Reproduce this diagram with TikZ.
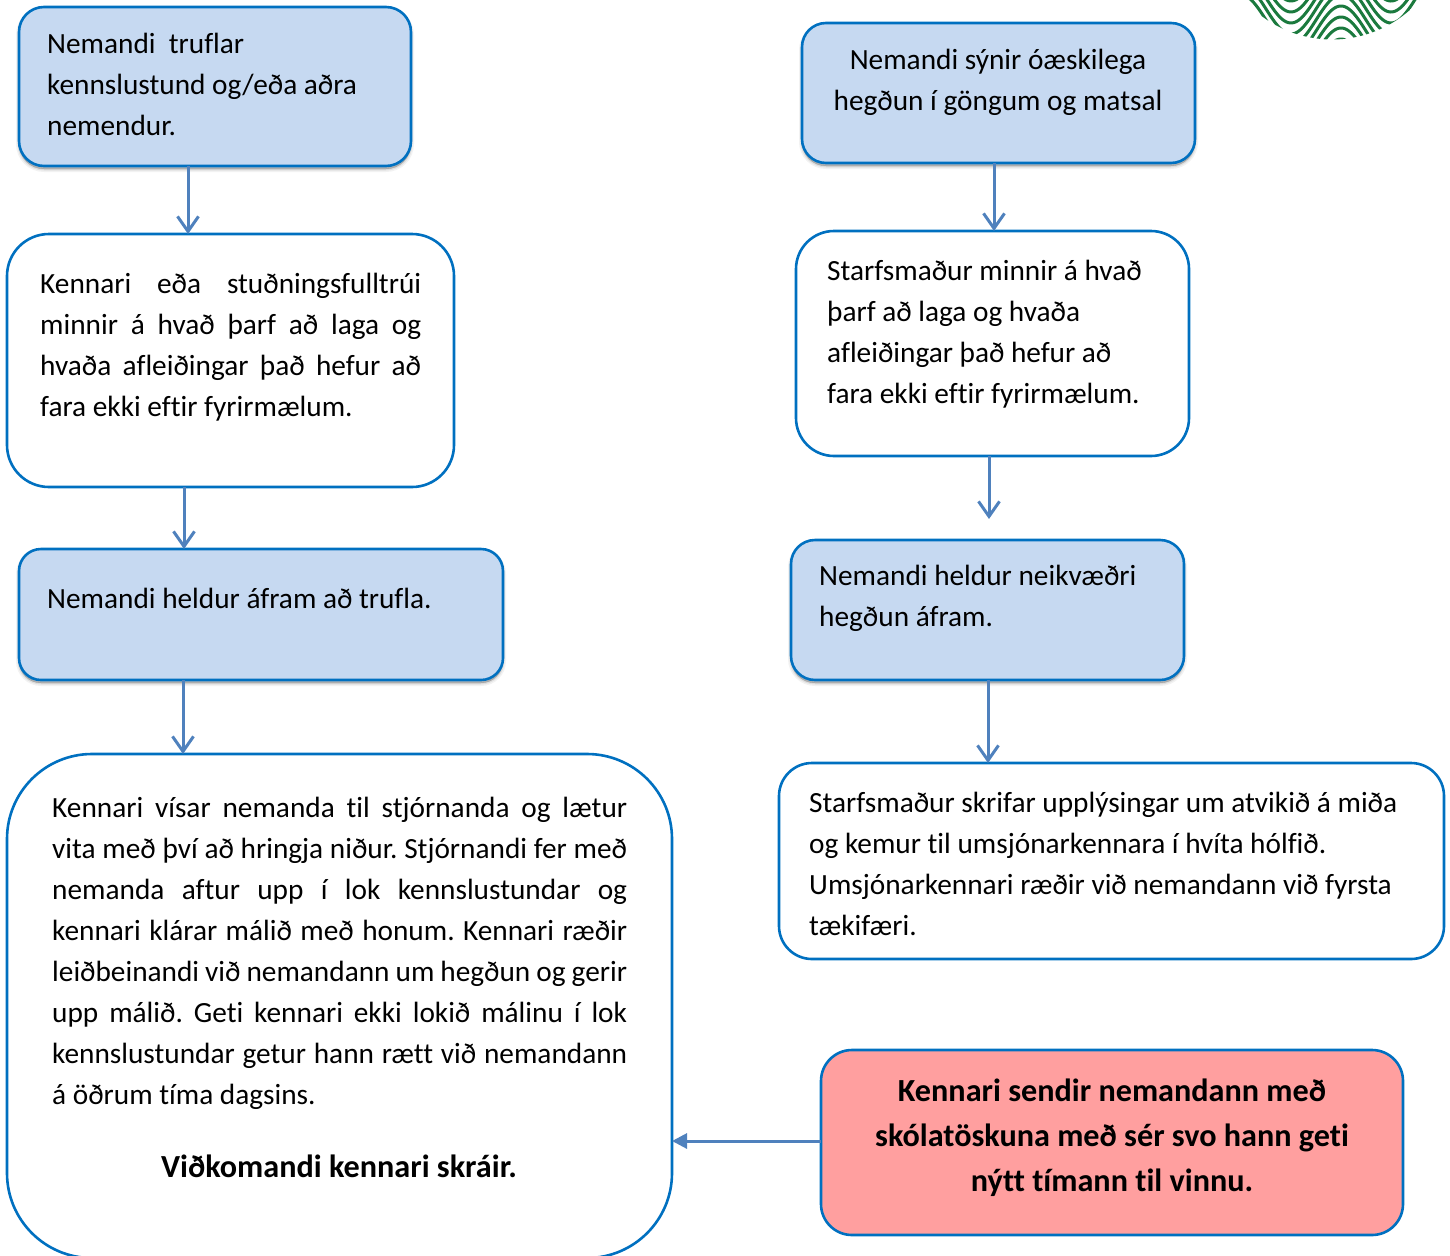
\documentclass[tikz,border=0pt]{standalone}
\usepackage{fontspec}
\setmainfont[Ligatures=NoCommon]{Carlito}
\usetikzlibrary{arrows.meta,shadows}
\definecolor{boxline}{HTML}{0070C0}
\definecolor{bluefill}{HTML}{C6D9F1}
\definecolor{redfill}{HTML}{FF9F9F}
\definecolor{arrowblue}{HTML}{4F81BD}
\definecolor{logogreen}{HTML}{1B7A3E}
\newcommand{\jl}[2]{\hbox to #1pt{#2}}
\tikzset{
  x=1pt,y=-1pt,
  box/.style={draw=boxline,line width=2.6pt,inner sep=0pt,outer sep=0pt,anchor=north west},
  softshadow/.style={
    general shadow={shadow xshift=0pt,shadow yshift=-3pt,draw=black,fill=black,opacity=.05,line width=6pt},
    general shadow={shadow xshift=0pt,shadow yshift=-3pt,draw=black,fill=black,opacity=.08,line width=3pt},
    general shadow={shadow xshift=0pt,shadow yshift=-3pt,draw=black,fill=black,opacity=.10,line width=.5pt}},
  bluebox/.style={box,fill=bluefill,softshadow},
  whitebox/.style={box,fill=white},
  redbox/.style={box,fill=redfill},
  txt/.style={inner sep=0pt,anchor=north west,align=left,font=\fontsize{29.3}{41.1}\selectfont\frenchspacing,text=black},
  ctxt/.style={inner sep=0pt,anchor=north,align=center,font=\fontsize{29.3}{41.1}\selectfont\frenchspacing,text=black},
  btxt/.style={inner sep=0pt,anchor=north,align=center,font=\fontsize{32.2}{45}\selectfont\bfseries,text=black},
  conn/.style={draw=arrowblue,line width=3pt,-{Straight Barb[length=15pt,width=21pt,line width=3pt]}},
  connfill/.style={draw=arrowblue,line width=3pt,-{Triangle[length=15pt,width=15pt]}},
  wave/.style={draw=logogreen,line width=3pt},
}
\newcommand{\rbox}[7]{% style,name,x1,y1,x2,y2,r
  \pgfmathsetmacro{\bw}{#5-#3}\pgfmathsetmacro{\bh}{#6-#4}
  \node[#1,rounded corners=#7pt,minimum width=\bw pt,minimum height=\bh pt] (#2) at (#3,#4) {};
}
\begin{document}
\begin{tikzpicture}
\useasboundingbox (0,0) rectangle (1450,1255);
\clip (0,0) rectangle (1450,1255);
% logo
\begin{scope}
\clip (1332,-78) circle (117.5pt);
\foreach \o in {-71,-60,...,39}{
  \draw[wave,domain=1215:1450,samples=120,smooth,variable=\t] plot ({\t},{\o+25-25*cos(3.6*(\t-1341))});
}
\end{scope}
% boxes
\rbox{bluebox}{A}{19}{7}{411}{166}{25}
\rbox{whitebox}{B}{7}{234}{454}{487}{42}
\rbox{bluebox}{C}{19}{549}{503}{680}{22}
\rbox{whitebox}{D}{7}{754}{672}{1258}{85}
\rbox{bluebox}{E}{802}{23}{1195}{163}{24}
\rbox{whitebox}{F}{796}{231}{1189}{456}{38}
\rbox{bluebox}{G}{791}{540}{1184}{680}{24}
\rbox{whitebox}{H}{779}{763}{1444}{959}{33}
\rbox{redbox}{I}{821}{1050}{1403}{1235}{31}
% texts
\node[txt] (tA) at (47,32.5) {Nemandi\ \ truflar\\kennslustund og/eða aðra\\nemendur.};
\node[txt] (tB) at (40,272.5) {\jl{381}{Kennari eða stuðningsfulltrúi}\\\jl{381}{minnir á hvað þarf að laga og}\\\jl{381}{hvaða afleiðingar það hefur að}\\fara ekki eftir fyrirmælum.};
\node[txt] (tC) at (47,587.5) {Nemandi heldur áfram að trufla.};
\node[txt] (tD) at (52,796.5) {\jl{575}{Kennari vísar nemanda til stjórnanda og lætur}\\\jl{575}{vita með því að hringja niður. Stjórnandi fer með}\\\jl{575}{nemanda aftur upp í lok kennslustundar og}\\\jl{575}{kennari klárar málið með honum. Kennari ræðir}\\\jl{575}{leiðbeinandi við nemandann um hegðun og gerir}\\\jl{575}{upp málið. Geti kennari ekki lokið málinu í lok}\\\jl{575}{kennslustundar getur hann rætt við nemandann}\\á öðrum tíma dagsins.};
\node[btxt] (tD2) at (339,1155) {Viðkomandi kennari skráir.};
\node[ctxt] (tE) at (998,48.5) {Nemandi sýnir óæskilega\\hegðun í göngum og matsal};
\node[txt] (tF) at (827,259.5) {Starfsmaður minnir á hvað\\þarf að laga og hvaða\\afleiðingar það hefur að\\fara ekki eftir fyrirmælum.};
\node[txt] (tG) at (819,564.5) {Nemandi heldur neikvæðri\\hegðun áfram.};
\node[txt] (tH) at (809,791.5) {Starfsmaður skrifar upplýsingar um atvikið á miða\\og kemur til umsjónarkennara í hvíta hólfið.\\Umsjónarkennari ræðir við nemandann við fyrsta\\tækifæri.};
\node[btxt] (tI) at (1112,1078.5) {Kennari sendir nemandann með\\skólatöskuna með sér svo hann geti\\nýtt tímann til vinnu.};
% connectors
\coordinate (x1) at (188,0);
\coordinate (x2) at (184,0);
\coordinate (x3) at (183,0);
\coordinate (x4) at (994,0);
\coordinate (x5) at (989,0);
\coordinate (x6) at (988,0);
\coordinate (y7) at (0,1141);
\coordinate (x5e) at (989,519);
\draw[conn] (A.south -| x1) -- (B.north -| x1);
\draw[conn] (B.south -| x2) -- (C.north -| x2);
\draw[conn] (C.south -| x3) -- (D.north -| x3);
\draw[conn] (E.south -| x4) -- (F.north -| x4);
\draw[conn] (F.south -| x5) -- (x5e);
\draw[conn] (G.south -| x6) -- (H.north -| x6);
\draw[connfill] (I.west |- y7) -- (D.east |- y7);
\end{tikzpicture}
\end{document}
